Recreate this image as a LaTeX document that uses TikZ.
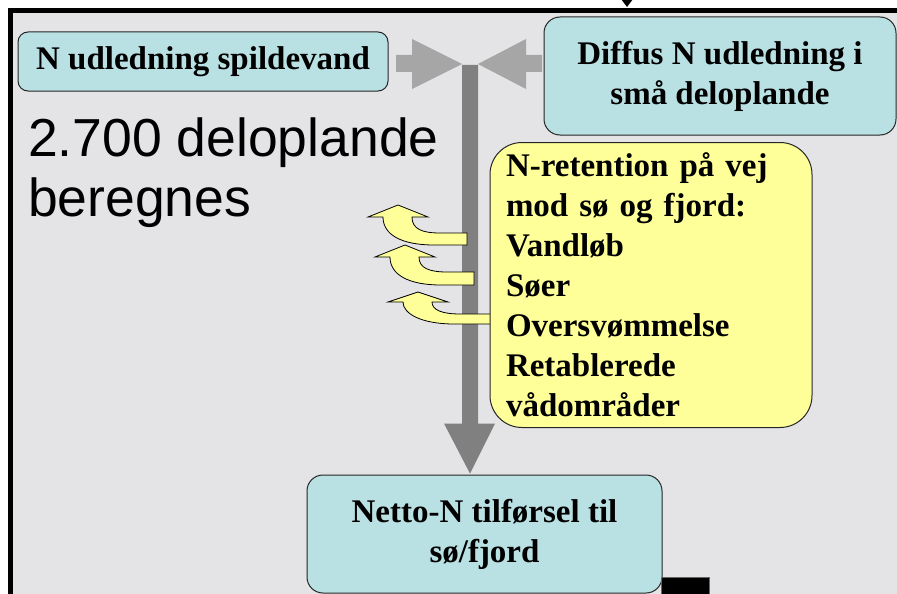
\documentclass[tikz,border=0pt]{standalone}
\usepackage{fontspec}
\setmainfont{Liberation Serif}
\newfontfamily\arialf{Liberation Sans}
\definecolor{bgray}{HTML}{E4E4E7}
\definecolor{boxcyan}{HTML}{B9E0E3}
\definecolor{boxyel}{HTML}{FFFF99}
\definecolor{bargray}{HTML}{808080}
\definecolor{lgray}{HTML}{A6A6A6}
\tikzset{
  cbox/.style={draw=black!85, line width=1pt, fill=boxcyan, rounded corners=16pt,
    font=\bfseries\fontsize{33}{40}\selectfont, align=center, inner sep=0pt},
  ybox/.style={draw=black!85, line width=1pt, fill=boxyel, rounded corners=32pt,
    font=\bfseries\fontsize{33}{40}\selectfont, align=left, inner xsep=16pt, inner ysep=0pt},
  yarrow/.style={draw=black, line width=0.8pt, fill=boxyel, line join=miter},
}
\newcommand\retarrow[6]{%
  \filldraw[yarrow] (#1,#2) -- ({#1+30},{#2+#4}) -- ({#1+14},{#2+#4})
    .. controls ({#1+14},{#2+#5-4}) and ({#1+24},{#2+#5}) .. ({#1+42},{#2+#5})
    -- (#3,{#2+#5}) -- (#3,{#2+#5+#6}) -- ({#1+36},{#2+#5+#6})
    .. controls ({#1+4},{#2+#5+#6}) and ({#1-15},{#2+#5+#6-10}) .. ({#1-15},{#2+#4})
    -- ({#1-30},{#2+#4}) -- cycle;}
\begin{document}
\begin{tikzpicture}[x=1pt,y=-1pt]
\useasboundingbox (0,0) rectangle (897,594);
% background and frame
\fill[white] (0,0) rectangle (897,594);
\fill[bgray] (10.5,10.5) rectangle (900,600);
\draw[line width=5pt] (10.5,600) -- (10.5,10.5) -- (900,10.5);
\fill[black] (621,-1) -- (633,-1) -- (627,7) -- cycle;

% boxes (positions)
\coordinate (junc) at (470,64);
\node[cbox, minimum width=355pt, minimum height=118pt] (netto) at (484.5,534) {Netto-N tilførsel til\\sø/fjord};
\coordinate (barend) at (junc |- netto.north);

% main gray flow bar
\fill[bargray] ([xshift=-8pt,yshift=-1pt]junc) -- ([xshift=8pt,yshift=-1pt]junc)
  -- ([xshift=8pt,yshift=51pt]barend) -- ([xshift=25pt,yshift=51pt]barend)
  -- ([yshift=1pt]barend) -- ([xshift=-26pt,yshift=51pt]barend)
  -- ([xshift=-8pt,yshift=51pt]barend) -- cycle;

% inflow arrows
\fill[lgray] ([xshift=-74pt,yshift=9pt]junc) -- ([xshift=-58pt,yshift=9pt]junc)
  -- ([xshift=-58pt,yshift=25pt]junc) -- ([xshift=-8pt]junc)
  -- ([xshift=-58pt,yshift=-25pt]junc) -- ([xshift=-58pt,yshift=-8pt]junc)
  -- ([xshift=-74pt,yshift=-8pt]junc) -- cycle;
\fill[lgray] ([xshift=72pt,yshift=9pt]junc) -- ([xshift=56pt,yshift=9pt]junc)
  -- ([xshift=56pt,yshift=25pt]junc) -- ([xshift=8pt]junc)
  -- ([xshift=56pt,yshift=-25pt]junc) -- ([xshift=56pt,yshift=-8pt]junc)
  -- ([xshift=72pt,yshift=-8pt]junc) -- cycle;

% retention arrows
\retarrow{398}{205}{467}{12}{28}{12}
\retarrow{405}{245}{474}{12}{27}{13}
\retarrow{418}{292}{495}{10}{22}{10}

\node[ybox, minimum width=322pt, minimum height=285pt, text width=290pt] (ret) at (651,285)
  {N-retention på vej\\mod sø og fjord:\\Vandløb\\Søer\\Oversvømmelse\\Retablerede\\vådområder};

\node[cbox, rounded corners=10pt, minimum width=370pt, minimum height=59pt] (spild) at (203,61.5) {N udledning spildevand};
\node[cbox, minimum width=352pt, minimum height=118pt] (diffus) at (720,76) {Diffus N udledning i\\små deloplande};

\node[anchor=west, font=\arialf\fontsize{53.5}{60}\selectfont, align=left, inner sep=0pt] (calc) at (28,173) {2.700 deloplande\\beregnes};

\fill[black, draw=black!60] (661,577) rectangle (709,600);
\end{tikzpicture}
\end{document}
